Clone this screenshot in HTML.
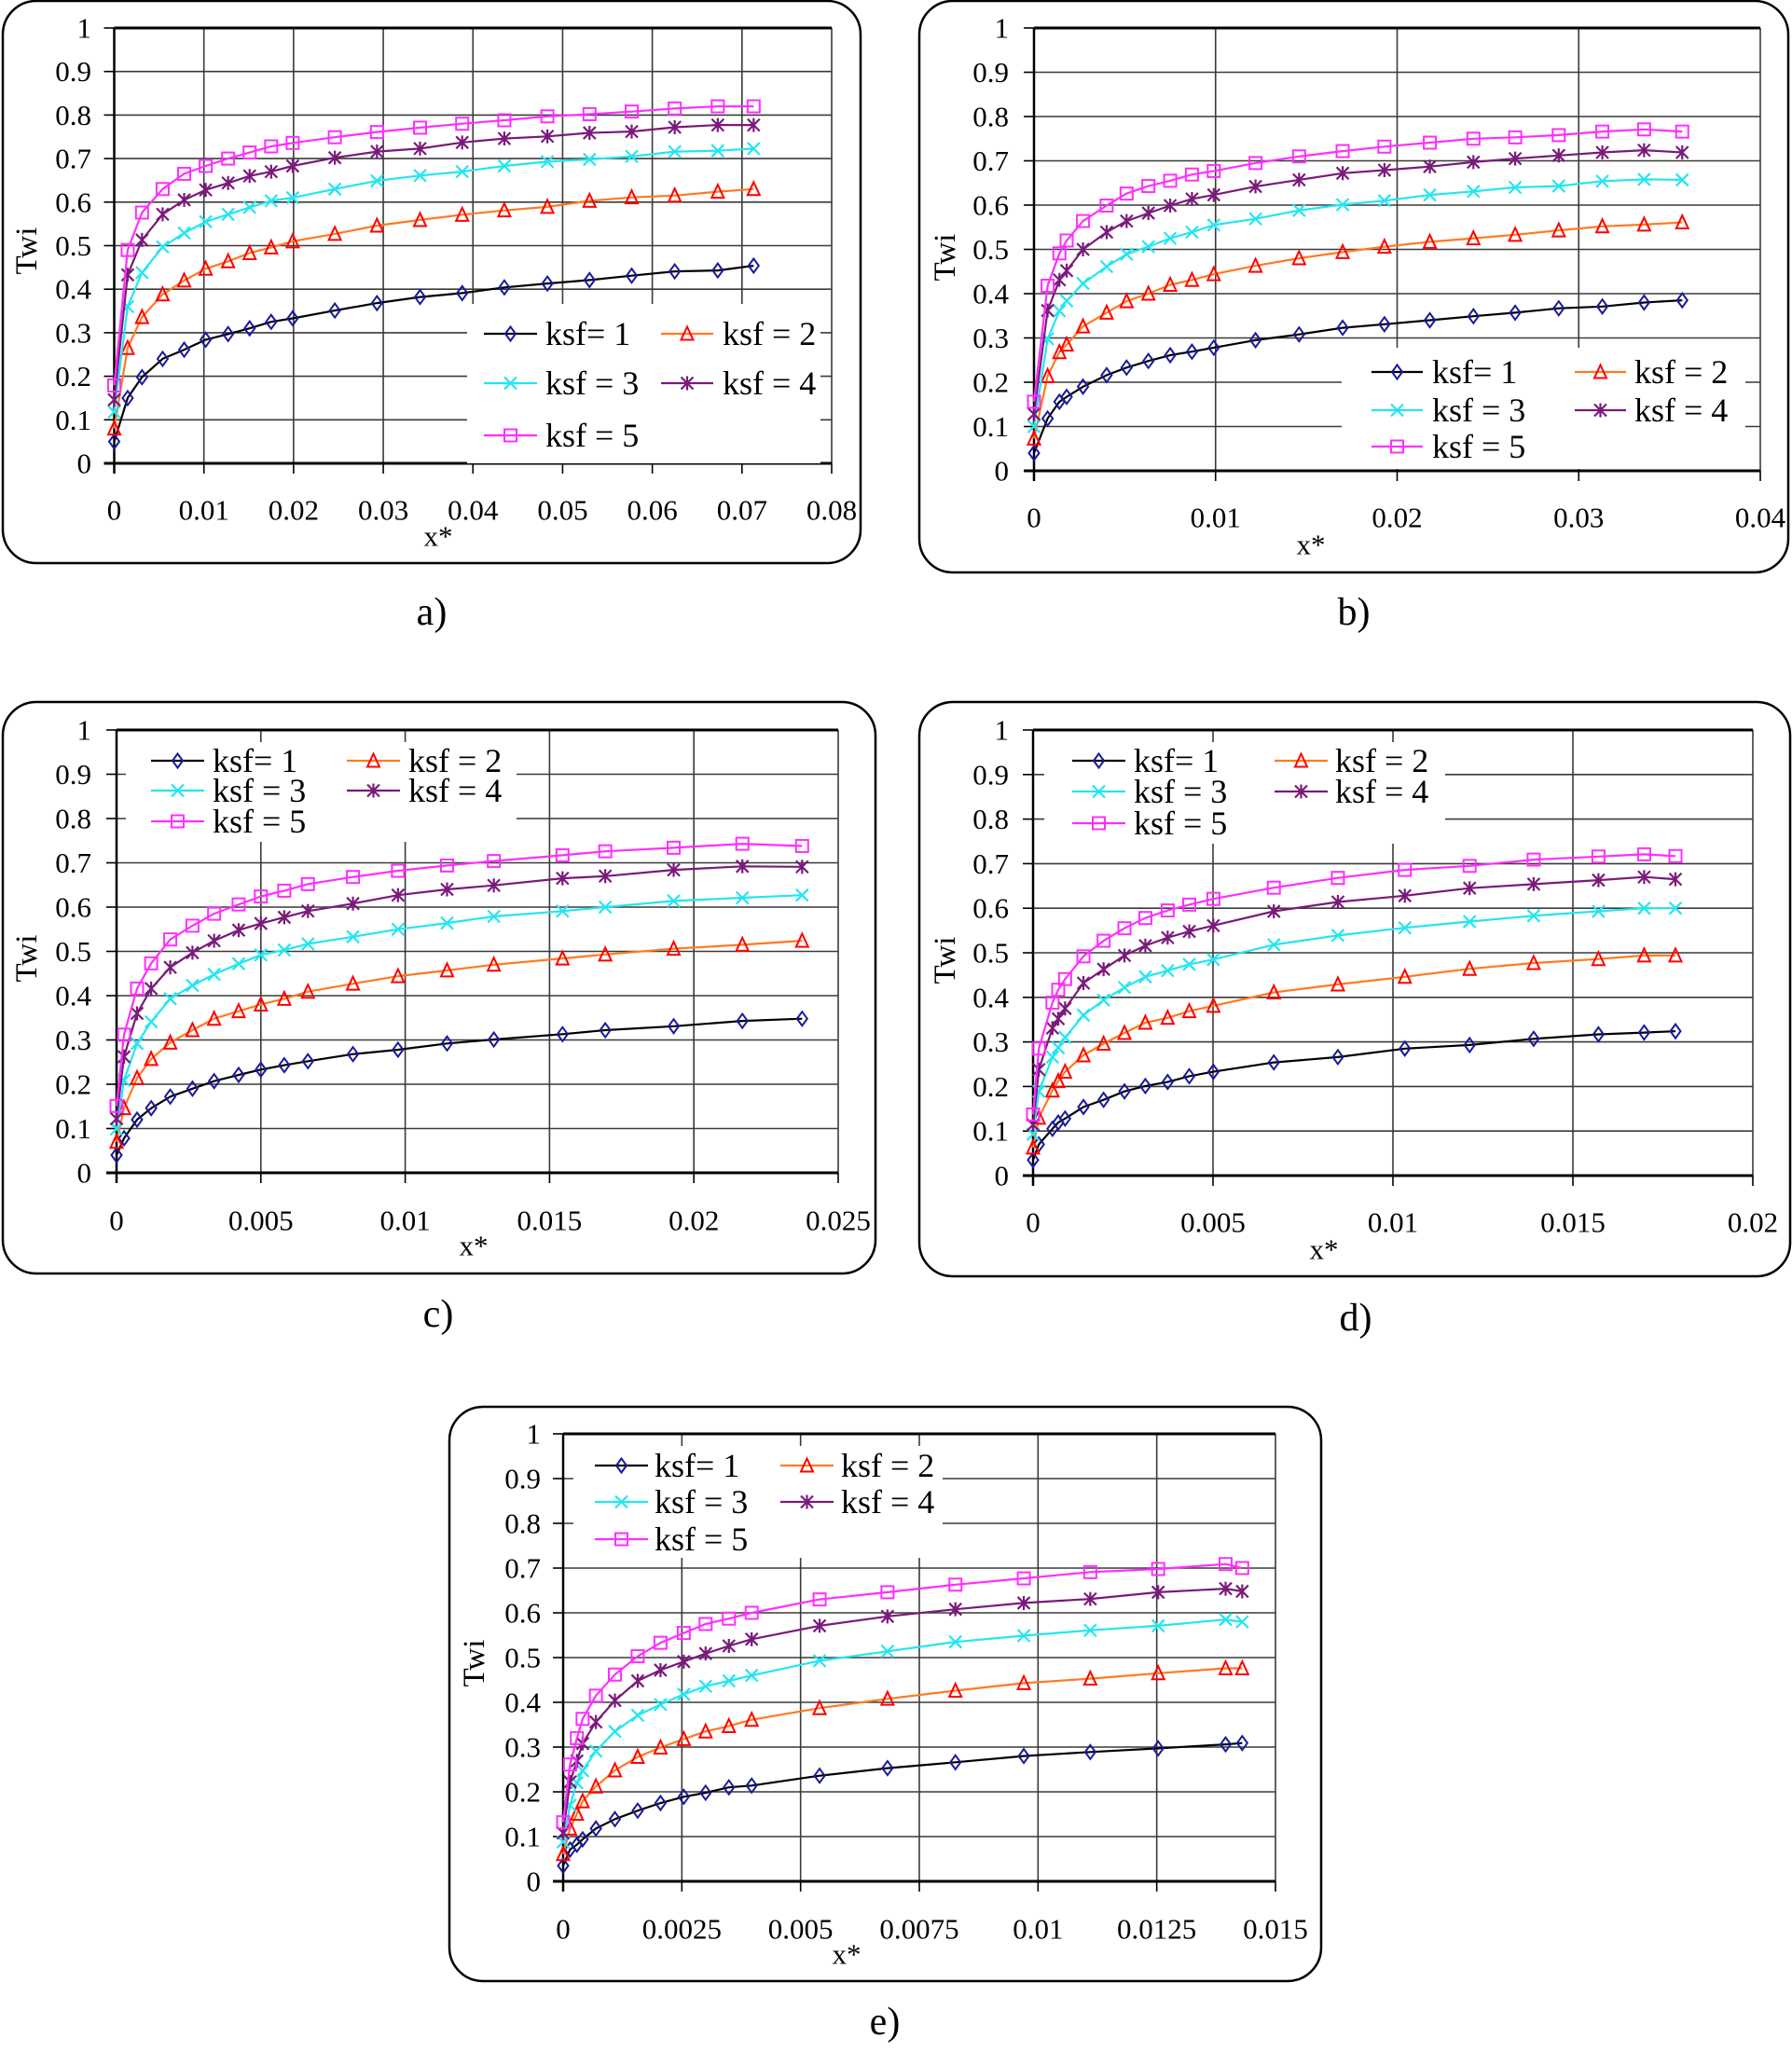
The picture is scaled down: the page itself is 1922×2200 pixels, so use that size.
<!DOCTYPE html>
<html><head><meta charset="utf-8"><title>Twi vs x* charts</title>
<style>
html,body{margin:0;padding:0;background:#fff;}
svg{display:block;font-family:"Liberation Serif",serif;}
</style></head>
<body>
<svg id="fig" width="1922" height="2200" viewBox="0 0 1922 2200" xmlns="http://www.w3.org/2000/svg"></svg>
<script>
// ---------- DATA ----------
const seriesNames = ["ksf= 1","ksf = 2","ksf = 3","ksf = 4","ksf = 5"];
const yTickLabels = ["0","0.1","0.2","0.3","0.4","0.5","0.6","0.7","0.8","0.9","1"];

// Panel a
const aXTicks = ["0","0.01","0.02","0.03","0.04","0.05","0.06","0.07","0.08"];
const aX = [0,0.0015,0.0031,0.0054,0.0078,0.0102,0.0127,0.0151,0.0175,0.0199,0.0246,0.0293,0.0341,0.0388,0.0435,0.0483,0.0530,0.0577,0.0625,0.0673,0.0713];
const aK1 = [0.05,0.15,0.198,0.24,0.261,0.284,0.297,0.31,0.325,0.333,0.351,0.368,0.382,0.391,0.404,0.413,0.421,0.431,0.441,0.443,0.454];
const aK2 = [0.08,0.265,0.336,0.388,0.42,0.447,0.464,0.483,0.496,0.51,0.527,0.546,0.559,0.571,0.581,0.589,0.603,0.611,0.615,0.624,0.63];
const aK3 = [0.118,0.36,0.438,0.497,0.529,0.555,0.572,0.588,0.603,0.61,0.63,0.649,0.661,0.67,0.683,0.693,0.698,0.705,0.716,0.718,0.723];
const aK4 = [0.146,0.433,0.513,0.572,0.605,0.628,0.644,0.66,0.67,0.683,0.702,0.716,0.723,0.737,0.746,0.751,0.759,0.762,0.772,0.777,0.777];
const aK5 = [0.179,0.49,0.576,0.63,0.665,0.683,0.7,0.714,0.728,0.736,0.749,0.761,0.771,0.78,0.788,0.797,0.802,0.808,0.815,0.82,0.82];

// Panel b
const bXTicks = ["0","0.01","0.02","0.03","0.04"];
const bX = [0,0.00075,0.0014,0.0018,0.0027,0.004,0.0051,0.0063,0.0075,0.0087,0.0099,0.0122,0.0146,0.017,0.0193,0.0218,0.0242,0.0265,0.0289,0.0313,0.0336,0.0357];
const bK1 = [0.04,0.118,0.156,0.167,0.19,0.216,0.233,0.248,0.261,0.269,0.278,0.295,0.308,0.323,0.331,0.34,0.349,0.357,0.367,0.371,0.38,0.385];
const bK2 = [0.073,0.214,0.268,0.285,0.326,0.357,0.383,0.4,0.42,0.431,0.444,0.463,0.48,0.494,0.506,0.517,0.525,0.533,0.543,0.552,0.556,0.561];
const bK3 = [0.1,0.298,0.361,0.384,0.423,0.461,0.489,0.506,0.525,0.539,0.555,0.569,0.588,0.601,0.61,0.623,0.631,0.64,0.643,0.654,0.658,0.657];
const bK4 = [0.128,0.362,0.431,0.452,0.5,0.539,0.564,0.582,0.599,0.614,0.623,0.642,0.657,0.672,0.679,0.687,0.697,0.705,0.712,0.719,0.724,0.719];
const bK5 = [0.156,0.418,0.491,0.52,0.564,0.599,0.626,0.643,0.655,0.669,0.677,0.695,0.71,0.722,0.732,0.741,0.75,0.753,0.758,0.766,0.771,0.766];

// Panel c
const cXTicks = ["0","0.005","0.01","0.015","0.02","0.025"];
const cX = [0,0.00026,0.00071,0.0012,0.00186,0.00263,0.00338,0.00423,0.005,0.00581,0.00663,0.00819,0.00975,0.01145,0.01307,0.01545,0.01693,0.0193,0.02168,0.02375];
const cK1 = [0.04,0.078,0.12,0.146,0.172,0.19,0.207,0.221,0.233,0.243,0.252,0.268,0.278,0.292,0.301,0.313,0.322,0.331,0.343,0.348];
const cK2 = [0.07,0.146,0.214,0.257,0.294,0.322,0.348,0.365,0.38,0.393,0.409,0.427,0.444,0.457,0.47,0.484,0.493,0.506,0.515,0.524];
const cK3 = [0.099,0.209,0.292,0.341,0.393,0.423,0.448,0.472,0.492,0.503,0.517,0.533,0.55,0.564,0.579,0.591,0.6,0.614,0.621,0.627];
const cK4 = [0.122,0.262,0.36,0.416,0.464,0.497,0.524,0.548,0.563,0.577,0.591,0.608,0.627,0.64,0.649,0.665,0.67,0.684,0.692,0.691];
const cK5 = [0.151,0.312,0.416,0.473,0.527,0.558,0.585,0.606,0.624,0.637,0.652,0.668,0.682,0.694,0.704,0.717,0.726,0.734,0.743,0.738];

// Panel d
const dXTicks = ["0","0.005","0.01","0.015","0.02"];
const dX = [0,0.00016,0.00054,0.0007,0.00089,0.0014,0.00196,0.00254,0.00312,0.00374,0.00434,0.00501,0.00669,0.00847,0.01033,0.01213,0.01391,0.01571,0.01698,0.01785];
const dK1 = [0.035,0.07,0.105,0.119,0.128,0.154,0.17,0.189,0.201,0.21,0.223,0.233,0.254,0.266,0.285,0.293,0.307,0.317,0.321,0.324];
const dK2 = [0.063,0.13,0.191,0.212,0.233,0.27,0.296,0.32,0.343,0.354,0.369,0.381,0.411,0.429,0.446,0.464,0.477,0.486,0.494,0.494];
const dK3 = [0.093,0.189,0.266,0.287,0.31,0.36,0.394,0.422,0.446,0.46,0.474,0.485,0.518,0.539,0.556,0.57,0.583,0.593,0.6,0.6];
const dK4 = [0.114,0.238,0.331,0.352,0.375,0.432,0.463,0.494,0.516,0.534,0.548,0.561,0.593,0.614,0.628,0.645,0.654,0.663,0.67,0.665];
const dK5 = [0.137,0.285,0.388,0.417,0.441,0.492,0.527,0.555,0.578,0.595,0.608,0.621,0.646,0.668,0.686,0.695,0.709,0.716,0.721,0.717];

// Panel e
const eXTicks = ["0","0.0025","0.005","0.0075","0.01","0.0125","0.015"];
const eX = [0,0.000146,0.00029,0.00041,0.00069,0.00109,0.00157,0.00205,0.00254,0.003,0.00349,0.00397,0.0054,0.00683,0.00826,0.0097,0.0111,0.01253,0.01395,0.0143];
const eK1 = [0.035,0.071,0.082,0.094,0.118,0.139,0.158,0.175,0.189,0.198,0.21,0.214,0.236,0.253,0.266,0.28,0.289,0.297,0.306,0.309];
const eK2 = [0.061,0.118,0.151,0.179,0.212,0.248,0.278,0.299,0.318,0.335,0.347,0.361,0.387,0.408,0.426,0.443,0.453,0.465,0.476,0.476];
const eK3 = [0.088,0.17,0.22,0.247,0.291,0.335,0.371,0.395,0.418,0.436,0.448,0.46,0.493,0.514,0.535,0.549,0.561,0.571,0.585,0.58];
const eK4 = [0.108,0.222,0.269,0.308,0.356,0.404,0.448,0.472,0.491,0.509,0.526,0.541,0.571,0.592,0.608,0.622,0.631,0.646,0.654,0.648];
const eK5 = [0.132,0.261,0.32,0.363,0.415,0.462,0.503,0.533,0.555,0.575,0.587,0.6,0.63,0.646,0.663,0.677,0.691,0.698,0.709,0.7];

// ---------- LAYOUT ----------
const NS = "http://www.w3.org/2000/svg";
const svg = document.getElementById('fig');
function mk(tag, attrs, parent){
  const e = document.createElementNS(NS, tag);
  for (const k in attrs) e.setAttribute(k, attrs[k]);
  (parent||svg).appendChild(e);
  return e;
}
const lineColors = ["#000000","#ff7a1e","#22e6f0","#7a1a7a","#ff2eff"];
const markColors = ["#1a1a9a","#ff0000","#22e6f0","#7a1a7a","#ff2eff"];

const panels = [
 {id:"a", x:aX, ys:[aK1,aK2,aK3,aK4,aK5], ticks:aXTicks, xmax:0.08,
  box:[3,1,920,603], plot:[122.5,30,892,497], ylabR:98, xlabY:547, xstarX:470, xstarY:575, twiX:29, twiY:269,
  cap:"a)", capX:463, capY:657,
  leg:{bg:[501,326,880,497], rows:[358,411,467], c1:[519,576,585], c2:[709,765,775]}},
 {id:"b", x:bX, ys:[bK1,bK2,bK3,bK4,bK5], ticks:bXTicks, xmax:0.04,
  box:[986,1,932,613], plot:[1109,30,1888,505], ylabR:1082, xlabY:555, xstarX:1406, xstarY:584, twiX:1014, twiY:276,
  cap:"b)", capX:1452, capY:657,
  leg:{bg:[1439,373,1872,503], rows:[399,440,479], c1:[1471,1526,1536], c2:[1689,1744,1753]}},
 {id:"c", x:cX, ys:[cK1,cK2,cK3,cK4,cK5], ticks:cXTicks, xmax:0.025,
  box:[3,753,936,613], plot:[125,783,899,1258], ylabR:98, xlabY:1309, xstarX:508, xstarY:1336, twiX:29, twiY:1028,
  cap:"c)", capX:470, capY:1410,
  leg:{bg:[135,796,554,903], rows:[816,848,881], c1:[162,219,228], c2:[372,429,438]}},
 {id:"d", x:dX, ys:[dK1,dK2,dK3,dK4,dK5], ticks:dXTicks, xmax:0.02,
  box:[986,753,934,616], plot:[1108,783,1880,1261], ylabR:1082, xlabY:1311, xstarX:1420, xstarY:1340, twiX:1014, twiY:1030,
  cap:"d)", capX:1454, capY:1414,
  leg:{bg:[1120,796,1550,905], rows:[816,849,883], c1:[1150,1207,1216], c2:[1367,1424,1432]}},
 {id:"e", x:eX, ys:[eK1,eK2,eK3,eK4,eK5], ticks:eXTicks, xmax:0.015,
  box:[482,1509,935,616], plot:[604,1538,1368,2018], ylabR:580, xlabY:2069, xstarX:908, xstarY:2096, twiX:509, twiY:1784,
  cap:"e)", capX:949, capY:2169,
  leg:{bg:[615,1551,1011,1671], rows:[1572,1611,1651], c1:[638,695,702], c2:[837,894,902]}}
];

function marker(g, type, cx, cy, color){
  const s = 6.5;
  let m;
  if (type===0){
    m = mk('polygon',{points:`${cx},${cy-s-1} ${cx+s-1},${cy} ${cx},${cy+s+1} ${cx-s+1},${cy}`,fill:'none',stroke:color,'stroke-width':2},g);
  } else if (type===1){
    m = mk('polygon',{points:`${cx},${cy-s-1} ${cx+s},${cy+s} ${cx-s},${cy+s}`,fill:'none',stroke:color,'stroke-width':2},g);
  } else if (type===2){
    m = mk('path',{d:`M${cx-s},${cy-s}L${cx+s},${cy+s}M${cx-s},${cy+s}L${cx+s},${cy-s}`,fill:'none',stroke:color,'stroke-width':2.2},g);
  } else if (type===3){
    m = mk('path',{d:`M${cx-s},${cy-s}L${cx+s},${cy+s}M${cx-s},${cy+s}L${cx+s},${cy-s}M${cx},${cy-s-1}L${cx},${cy+s+1}`,fill:'none',stroke:color,'stroke-width':2.2},g);
  } else {
    m = mk('rect',{x:cx-s,y:cy-s,width:2*s,height:2*s,fill:'none',stroke:color,'stroke-width':2},g);
  }
  return m;
}

panels.forEach(p=>{
  const g = mk('g',{});
  
  
  const [L,T,R,B] = p.plot;
  const sx = v => L + v/p.xmax*(R-L);
  const sy = v => B - v*(B-T);
  const box = mk('rect',{x:p.box[0],y:p.box[1],width:p.box[2],height:p.box[3],rx:36,ry:36,fill:'#fff',stroke:'#000','stroke-width':2.5},g);
  
  
  // horizontal grid + y ticks
  yTickLabels.forEach((lab,i)=>{
    const v = i/10, y = sy(v);
    if (i>0 && i<10){
      const gl = mk('line',{x1:L,x2:R,y1:y,y2:y,stroke:'#3a3a3a','stroke-width':1.6},g);
      
      
    }
    mk('line',{x1:L-11,x2:L,y1:y,y2:y,stroke:'#000','stroke-width':1.6},g);
    const t = mk('text',{x:p.ylabR,y:y,'text-anchor':'end','dominant-baseline':'central','font-size':31,fill:'#000'},g);
    t.textContent = lab;
    
    
  });
  // vertical grid + x ticks
  p.ticks.forEach(lab=>{
    const v = parseFloat(lab), x = sx(v);
    if (v>0){
      const gl = mk('line',{x1:x,x2:x,y1:T,y2:B,stroke:'#3a3a3a','stroke-width':1.6},g);
      
      
    }
    mk('line',{x1:x,x2:x,y1:B,y2:B+11,stroke:'#000','stroke-width':1.6},g);
    const t = mk('text',{x:x,y:p.xlabY,'text-anchor':'middle','dominant-baseline':'central','font-size':31,fill:'#000'},g);
    t.textContent = lab;
    
    
  });
  // axes
  mk('line',{x1:L,x2:R,y1:T,y2:T,stroke:'#000','stroke-width':3},g);
  const xa = mk('line',{x1:L-11,x2:R,y1:B,y2:B,stroke:'#000','stroke-width':3},g);
  
  
  const ya = mk('line',{x1:L,x2:L,y1:T,y2:B+11,stroke:'#000','stroke-width':2.5},g);
  
  
  // axis titles
  const xt = mk('text',{x:p.xstarX,y:p.xstarY,'text-anchor':'middle','dominant-baseline':'central','font-size':31},g);
  xt.textContent = 'x*';
  
  
  const yt = mk('text',{x:p.twiX,y:p.twiY,'text-anchor':'middle','dominant-baseline':'central','font-size':33,transform:`rotate(-90 ${p.twiX} ${p.twiY})`},g);
  yt.textContent = 'Twi';
  
  
  // series
  p.ys.forEach((ys,si)=>{
    const sg = mk('g',{},g);
    
    
    const pts = p.x.map((xv,i)=>sx(xv).toFixed(1)+','+sy(ys[i]).toFixed(1)).join(' ');
    const pl = mk('polyline',{points:pts,fill:'none',stroke:lineColors[si],'stroke-width':2.2,'stroke-linejoin':'round'},sg);
    
    
    p.x.forEach((xv,i)=>{
      const m = marker(sg, si, sx(xv), sy(ys[i]), markColors[si]);
      
      
    });
  });
  // legend
  const lg = mk('g',{},g);
  
  
  const b = p.leg.bg;
  mk('rect',{x:b[0],y:b[1],width:b[2]-b[0],height:b[3]-b[1],fill:'#fff'},lg);
  seriesNames.forEach((nm,si)=>{
    const row = p.leg.rows[Math.floor(si/2)];
    const col = si%2===0 ? p.leg.c1 : p.leg.c2;
    const eg = mk('g',{},lg);
    
    
    mk('line',{x1:col[0],x2:col[1],y1:row,y2:row,stroke:lineColors[si],'stroke-width':2.2},eg);
    marker(eg, si, (col[0]+col[1])/2, row, markColors[si]);
    const t = mk('text',{x:col[2],y:row,'dominant-baseline':'central','font-size':36},eg);
    t.textContent = nm;
  });
  // caption
  const c = mk('text',{x:p.capX,y:p.capY,'text-anchor':'middle','dominant-baseline':'central','font-size':42},g);
  c.textContent = p.cap;
  
  
});
</script>
</body></html>
